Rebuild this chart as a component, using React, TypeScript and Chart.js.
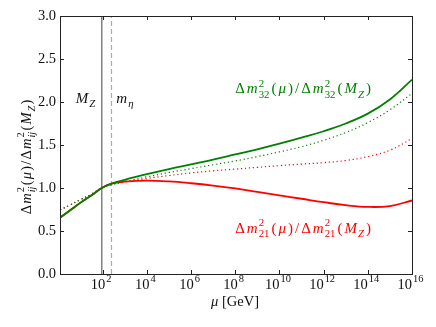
import React, { useEffect, useRef } from "react";
import { Chart, registerables } from "chart.js";

Chart.register(...registerables);

// log10(mu / GeV) sample points
const LOG_MU = [0.07, 0.5, 1, 1.5, 1.96, 2.4, 3, 4, 5, 6, 7, 8, 9, 10, 11, 12, 13, 14, 15, 16];
const R32_SOLID = [0.655, 0.735, 0.83, 0.915, 1.0, 1.05, 1.095, 1.16, 1.22, 1.275, 1.33, 1.39, 1.45, 1.515, 1.585, 1.66, 1.75, 1.865, 2.03, 2.26];
const R32_DOTTED = [0.745, 0.8, 0.865, 0.93, 1.0, 1.04, 1.075, 1.13, 1.18, 1.225, 1.27, 1.315, 1.365, 1.42, 1.48, 1.555, 1.645, 1.76, 1.91, 2.1];
const R21_SOLID = [0.655, 0.735, 0.83, 0.915, 1.0, 1.05, 1.073, 1.085, 1.076, 1.055, 1.028, 0.995, 0.955, 0.915, 0.875, 0.835, 0.8, 0.78, 0.79, 0.855];
const R21_DOTTED = [0.745, 0.8, 0.865, 0.93, 1.0, 1.04, 1.068, 1.11, 1.145, 1.175, 1.2, 1.22, 1.24, 1.26, 1.278, 1.295, 1.32, 1.365, 1.44, 1.575];

const LOG_MZ = Math.log10(91.19);
const LOG_META = 2.4;

const X_MIN = 0.07;
const X_MAX = 16;
const X_TICKS = [2, 4, 6, 8, 10, 12, 14, 16];
const Y_MIN = 0;
const Y_MAX = 3;
const Y_TICKS = [0, 0.5, 1, 1.5, 2, 2.5, 3];

const GREEN = "rgb(0,128,0)";
const RED = "rgb(255,0,0)";
const FONT = '"Liberation Serif", "DejaVu Serif", serif';

type Tok = { t?: string; it?: boolean; sup?: string; sub?: string; subIt?: boolean; supIt?: boolean };

function fnt(size: number, it?: boolean) {
  return `${it ? "italic " : ""}${size}px ${FONT}`;
}

function walkMath(ctx: CanvasRenderingContext2D, toks: Tok[], x: number, y: number, size: number, gap: number, draw: boolean) {
  const small = size * 0.72;
  let cx = x;
  for (const tk of toks) {
    if (tk.t) {
      ctx.font = fnt(size, tk.it);
      if (draw) ctx.fillText(tk.t, cx, y);
      cx += ctx.measureText(tk.t).width;
    }
    let sw = 0;
    if (tk.sup) {
      ctx.font = fnt(small, tk.supIt);
      if (draw) ctx.fillText(tk.sup, cx + 1, y - size * 0.45);
      sw = Math.max(sw, ctx.measureText(tk.sup).width);
    }
    if (tk.sub) {
      ctx.font = fnt(small, tk.subIt);
      if (draw) ctx.fillText(tk.sub, cx + 1, y + size * 0.28);
      sw = Math.max(sw, ctx.measureText(tk.sub).width);
    }
    if (sw) cx += sw + 1;
    cx += gap;
  }
  return cx - x - gap;
}

function mathWidth(ctx: CanvasRenderingContext2D, toks: Tok[], size: number, gap = 0) {
  return walkMath(ctx, toks, 0, 0, size, gap, false);
}

function drawMath(ctx: CanvasRenderingContext2D, toks: Tok[], x: number, y: number, size: number, color: string, gap = 0) {
  ctx.fillStyle = color;
  ctx.textBaseline = "alphabetic";
  ctx.textAlign = "left";
  walkMath(ctx, toks, x, y, size, gap, true);
}

function ratioToks(idx: string): Tok[] {
  return [
    { t: "Δ" },
    { t: "m", it: true, sup: "2", sub: idx, subIt: idx === "ij" },
    { t: "(" },
    { t: "μ", it: true },
    { t: ")" },
    { t: "/" },
    { t: "Δ" },
    { t: "m", it: true, sup: "2", sub: idx, subIt: idx === "ij" },
    { t: "(" },
    { t: "M", it: true, sub: "Z", subIt: true },
    { t: ")" },
  ];
}

const decorPlugin = {
  id: "decor",
  afterDraw(chart: any) {
    const ctx: CanvasRenderingContext2D = chart.ctx;
    const xs = chart.scales.x;
    const ys = chart.scales.y;
    const a = chart.chartArea;
    ctx.save();
    // frame
    ctx.strokeStyle = "#222";
    ctx.lineWidth = 1;
    ctx.strokeRect(Math.round(a.left) + 0.5, Math.round(a.top) + 0.5, Math.round(a.right - a.left), Math.round(a.bottom - a.top));
    // ticks inward
    const TL = 4;
    ctx.beginPath();
    for (const v of X_TICKS) {
      const px = Math.round(xs.getPixelForValue(v)) + 0.5;
      ctx.moveTo(px, a.bottom);
      ctx.lineTo(px, a.bottom - TL);
      ctx.moveTo(px, a.top);
      ctx.lineTo(px, a.top + TL);
    }
    for (const v of Y_TICKS) {
      const py = Math.round(ys.getPixelForValue(v)) + 0.5;
      ctx.moveTo(a.left, py);
      ctx.lineTo(a.left + TL, py);
      ctx.moveTo(a.right, py);
      ctx.lineTo(a.right - TL, py);
    }
    ctx.stroke();

    // y tick labels
    ctx.fillStyle = "#111";
    ctx.font = fnt(14.5);
    ctx.textAlign = "right";
    ctx.textBaseline = "middle";
    for (const v of Y_TICKS) {
      ctx.fillText(v.toFixed(1), a.left - 4, ys.getPixelForValue(v) + 0.5);
    }
    // x tick labels 10^n
    for (const v of X_TICKS) {
      const toks: Tok[] = [{ t: "10", sup: String(v) }];
      const w = mathWidth(ctx, toks, 14.5);
      const px = xs.getPixelForValue(v);
      drawMath(ctx, toks, px - w / 2 - 1.5, a.bottom + 15, 14.5, "#111");
    }
    // x axis title
    {
      const toks: Tok[] = [{ t: "μ", it: true }, { t: " [GeV]" }];
      const w = mathWidth(ctx, toks, 14.5);
      drawMath(ctx, toks, (a.left + a.right) / 2 - w / 2 - 1, a.bottom + 32, 14.5, "#111");
    }
    // y axis title (rotated)
    {
      const toks = ratioToks("ij");
      const w = mathWidth(ctx, toks, 14.5, 1.2);
      ctx.save();
      ctx.translate(31, (a.top + a.bottom) / 2 + 12);
      ctx.rotate(-Math.PI / 2);
      drawMath(ctx, toks, -w / 2, 0, 14.5, "#111", 1.2);
      ctx.restore();
    }
    // annotations
    drawMath(ctx, [{ t: "M", it: true, sub: "Z", subIt: true }], xs.getPixelForValue(0.78), ys.getPixelForValue(1.99), 15, "#111");
    drawMath(ctx, [{ t: "m", it: true, sub: "η", subIt: true }], xs.getPixelForValue(2.62), ys.getPixelForValue(1.99), 15, "#111");
    drawMath(ctx, ratioToks("32"), xs.getPixelForValue(8.0), ys.getPixelForValue(2.1), 15, GREEN, 2);
    drawMath(ctx, ratioToks("21"), xs.getPixelForValue(8.0), ys.getPixelForValue(0.48), 15, RED, 2);
    ctx.restore();
  },
};

function pts(ys: number[]) {
  return LOG_MU.map((x, i) => ({ x, y: ys[i] }));
}

export default function App() {
  const ref = useRef<HTMLCanvasElement | null>(null);
  useEffect(() => {
    if (!ref.current) return;
    const chart = new Chart(ref.current, {
      type: "line",
      data: {
        datasets: [
          { data: pts(R32_SOLID), borderColor: GREEN, borderWidth: 1.8, pointRadius: 0, tension: 0.4 },
          { data: pts(R21_SOLID), borderColor: RED, borderWidth: 1.8, pointRadius: 0, tension: 0.4 },
          { data: pts(R32_DOTTED), borderColor: GREEN, borderWidth: 1.2, borderDash: [1.2, 2.8], pointRadius: 0, tension: 0.4 },
          { data: pts(R21_DOTTED), borderColor: RED, borderWidth: 1.2, borderDash: [1.2, 2.8], pointRadius: 0, tension: 0.4 },
          { data: [{ x: LOG_MZ, y: Y_MIN }, { x: LOG_MZ, y: Y_MAX }], borderColor: "#808080", borderWidth: 1.5, pointRadius: 0 },
          { data: [{ x: LOG_META, y: Y_MIN }, { x: LOG_META, y: Y_MAX }], borderColor: "#aaaaaa", borderWidth: 1.2, borderDash: [5, 3], pointRadius: 0 },
        ],
      } as any,
      options: {
        responsive: false,
        animation: false,
        layout: { padding: { left: 60, right: 24, top: 16, bottom: 53 } },
        plugins: { legend: { display: false }, tooltip: { enabled: false } },
        scales: {
          x: { type: "linear", min: X_MIN, max: X_MAX, display: false },
          y: { type: "linear", min: Y_MIN, max: Y_MAX, display: false },
        },
      } as any,
      plugins: [decorPlugin],
    });
    return () => chart.destroy();
  }, []);
  return (
    <div style={{ position: "fixed", left: 0, top: 0, width: 436, height: 327, background: "#fff" }}>
      <canvas ref={ref} width={436} height={327} style={{ display: "block" }} />
    </div>
  );
}
